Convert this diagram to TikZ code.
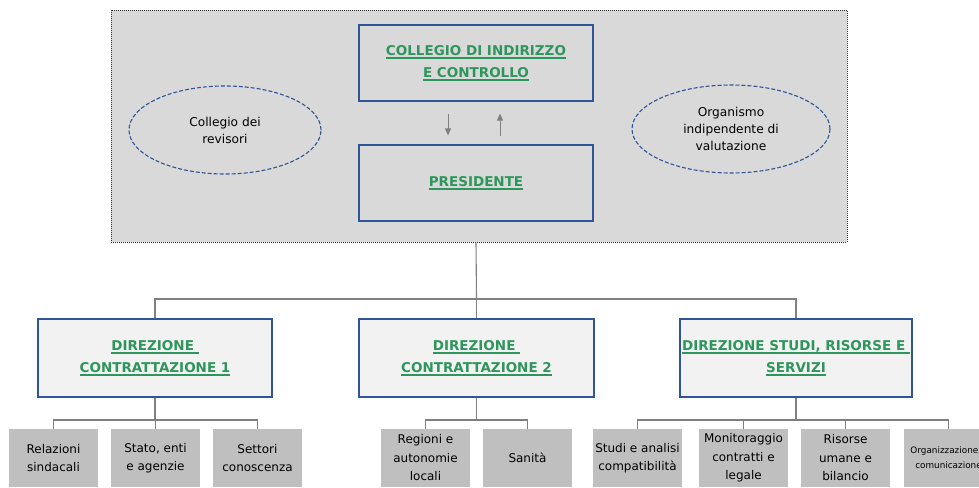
\documentclass[tikz,border=0pt]{standalone}
\usepackage{fontspec}
\setmainfont{DejaVu Sans}
\usetikzlibrary{arrows.meta,shapes.geometric}
\definecolor{hgreen}{RGB}{46,150,92}
\definecolor{bblue}{RGB}{47,85,151}
\definecolor{outerfill}{RGB}{217,217,217}
\definecolor{dirfill}{RGB}{242,242,242}
\definecolor{subfill}{RGB}{191,191,191}
\definecolor{linegray}{RGB}{128,128,128}
\newcommand\ulg[1]{\setbox0\hbox{#1}\rlap{\rule[-3pt]{\wd0}{1.4pt}}\box0}
\tikzset{
  board/.style={draw=black!80, fill=outerfill, dash pattern=on 1pt off 1pt, line width=0.8pt, inner sep=0pt},
  headbox/.style={draw=bblue, line width=1.2pt, inner sep=0pt, align=center, text=hgreen,
    font=\bfseries\fontsize{13.5}{22}\selectfont},
  topbox/.style={headbox, minimum width=234pt, minimum height=76pt},
  dirbox/.style={headbox, fill=dirfill, minimum height=78pt},
  oval/.style={ellipse, draw=bblue, dash pattern=on 4pt off 2pt, line width=1.1pt, inner sep=0pt, align=center,
    font=\fontsize{12.2}{17}\selectfont},
  subbox/.style={fill=subfill, inner sep=0pt, minimum width=89pt, minimum height=58pt, align=center,
    font=\fontsize{12}{18.5}\selectfont},
  conn/.style={draw=linegray, line width=1.1pt},
  arr/.style={draw=linegray, line width=1pt, -{Triangle[length=7pt,width=6pt]}}
}
\begin{document}
\begin{tikzpicture}[x=1pt,y=-1pt]
\clip (0,0) rectangle (979,487);
\fill[white] (0,0) rectangle (979,487);
% board
\node[board, minimum width=736pt, minimum height=232pt] (board) at (479,126) {};
\node[topbox] (coll) at (476,63) {\ulg{COLLEGIO DI INDIRIZZO}\\\ulg{E CONTROLLO}};
\node[topbox] (pres) at (476,183) {\ulg{PRESIDENTE}};
\node[oval, minimum width=192pt, minimum height=88pt] (rev) at (225,130) {Collegio dei\\revisori};
\node[oval, minimum width=198pt, minimum height=88pt] (oiv) at (731,129) {Organismo\\indipendente di\\valutazione};
\draw[arr, shorten <=12pt, shorten >=9pt] ([xshift=-28pt]coll.south) -- ([xshift=-28pt]pres.north);
\draw[arr, shorten <=8pt, shorten >=12pt] ([xshift=24pt]pres.north) -- ([xshift=24pt]coll.south);
% directions
\node[dirbox, minimum width=234pt] (d1) at (155,358) {\ulg{DIREZIONE\ }\\\ulg{CONTRATTAZIONE 1}};
\node[dirbox, minimum width=235pt] (d2) at (476.5,358) {\ulg{DIREZIONE\ }\\\ulg{CONTRATTAZIONE 2}};
\node[dirbox, minimum width=232pt] (d3) at (796,358) {\ulg{DIREZIONE STUDI, RISORSE E\ }\\\ulg{SERVIZI}};
\coordinate (bus) at (476.5,299);
\draw[conn] (board.south -| pres.south) -- (bus);
\draw[conn] (d1.north) |- (bus) -| (d3.north);
\draw[conn] (bus) -- (d2.north);
% sub units
\node[subbox] (s11) at (53.5,458) {Relazioni\\sindacali};
\node[subbox] (s12) at (155.5,458) {Stato, enti\\e agenzie};
\node[subbox] (s13) at (257.5,458) {Settori\\conoscenza};
\node[subbox] (s21) at (425.5,458) {Regioni e\\autonomie\\locali};
\node[subbox] (s22) at (527.5,458) {Sanità};
\node[subbox] (s31) at (637.5,458) {Studi e analisi\\compatibilità};
\node[subbox] (s32) at (743.5,458) {Monitoraggio\\contratti e\\legale};
\node[subbox] (s33) at (845.5,458) {Risorse\\umane e\\bilancio};
\node[subbox, font=\fontsize{8.85}{15}\selectfont] (s34) at (948.5,458) {Organizzazione e\\comunicazione};
\coordinate (b1) at (155,420);
\coordinate (b2) at (476.5,420);
\coordinate (b3) at (796,420);
\draw[conn] (d1.south) -- (b1);
\draw[conn] (s11.north) |- (b1) -| (s13.north);
\draw[conn] (s12.north) -- (s12.north |- b1);
\draw[conn] (d2.south) -- (b2);
\draw[conn] (s21.north) |- (b2) -| (s22.north);
\draw[conn] (d3.south) -- (b3);
\draw[conn] (s31.north) |- (b3) -| (s34.north);
\draw[conn] (s32.north) -- (s32.north |- b3);
\draw[conn] (s33.north) -- (s33.north |- b3);
\end{tikzpicture}
\end{document}
